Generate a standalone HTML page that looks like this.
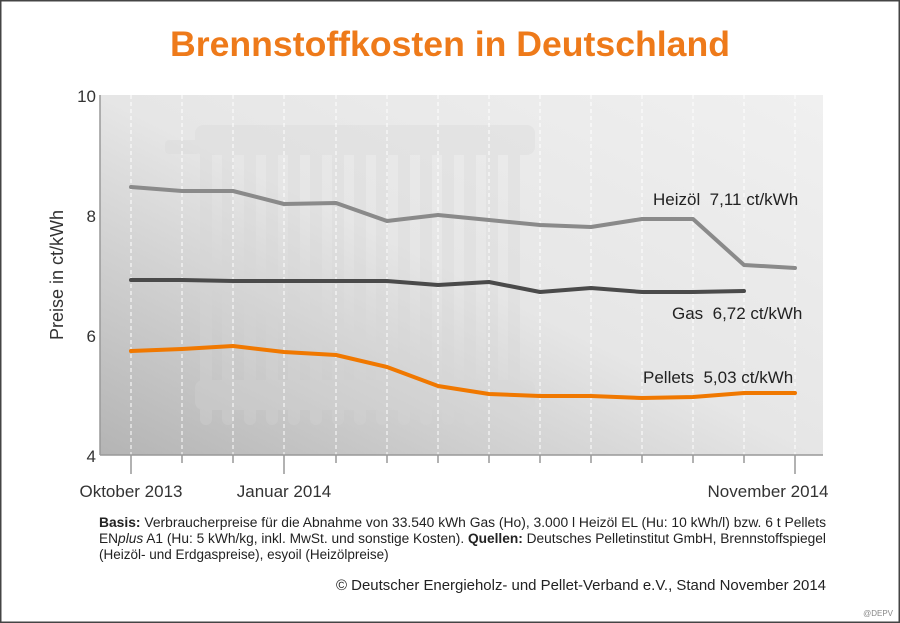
<!DOCTYPE html>
<html><head><meta charset="utf-8"><style>
html,body{margin:0;padding:0;background:#fff}
svg{display:block}
text{font-family:"Liberation Sans",sans-serif}
</style></head><body>
<svg width="900" height="623" viewBox="0 0 900 623" xmlns="http://www.w3.org/2000/svg">
<defs>
<linearGradient id="bg" x1="1" y1="0" x2="0" y2="1">
<stop offset="0" stop-color="#f0f0f0"/><stop offset="0.5" stop-color="#e6e6e6"/><stop offset="1" stop-color="#b4b4b4"/>
</linearGradient>
</defs>
<rect x="0.5" y="0.5" width="899" height="622" fill="#fff" stroke="#444" stroke-width="2"/>
<text x="450" y="56" text-anchor="middle" font-size="35" font-weight="bold" fill="#ee7a1a" textLength="560" lengthAdjust="spacingAndGlyphs">Brennstoffkosten in Deutschland</text>
<rect x="100" y="95" width="723" height="360" fill="url(#bg)"/>
<g fill="#d6d6d6" opacity="0.3">
<rect x="165" y="140" width="35" height="14" rx="4"/>
<rect x="195" y="125" width="340" height="30" rx="8"/>
<rect x="195" y="380" width="340" height="30" rx="8"/>
<g>
<rect x="200" y="125" width="12" height="300" rx="6"/><rect x="222" y="125" width="12" height="300" rx="6"/><rect x="244" y="125" width="12" height="300" rx="6"/><rect x="266" y="125" width="12" height="300" rx="6"/><rect x="288" y="125" width="12" height="300" rx="6"/><rect x="310" y="125" width="12" height="300" rx="6"/><rect x="332" y="125" width="12" height="300" rx="6"/><rect x="354" y="125" width="12" height="300" rx="6"/><rect x="376" y="125" width="12" height="300" rx="6"/><rect x="398" y="125" width="12" height="300" rx="6"/><rect x="420" y="125" width="12" height="300" rx="6"/><rect x="442" y="125" width="12" height="300" rx="6"/><rect x="464" y="125" width="12" height="300" rx="6"/><rect x="486" y="125" width="12" height="300" rx="6"/><rect x="508" y="125" width="12" height="300" rx="6"/>
</g></g>
<g stroke="#fff" stroke-width="1" stroke-dasharray="4,3">
<line x1="131" y1="95" x2="131" y2="455"/><line x1="182" y1="95" x2="182" y2="455"/><line x1="233" y1="95" x2="233" y2="455"/><line x1="284" y1="95" x2="284" y2="455"/><line x1="336" y1="95" x2="336" y2="455"/><line x1="387" y1="95" x2="387" y2="455"/><line x1="438" y1="95" x2="438" y2="455"/><line x1="489" y1="95" x2="489" y2="455"/><line x1="540" y1="95" x2="540" y2="455"/><line x1="591" y1="95" x2="591" y2="455"/><line x1="642" y1="95" x2="642" y2="455"/><line x1="693" y1="95" x2="693" y2="455"/><line x1="744" y1="95" x2="744" y2="455"/><line x1="795" y1="95" x2="795" y2="455"/>
</g>
<g stroke="#999" stroke-width="1.5" fill="none">
<line x1="100" y1="95" x2="100" y2="455"/><line x1="100" y1="455" x2="823" y2="455"/>
<line x1="131" y1="455" x2="131" y2="474"/><line x1="182" y1="455" x2="182" y2="463"/><line x1="233" y1="455" x2="233" y2="463"/><line x1="284" y1="455" x2="284" y2="474"/><line x1="336" y1="455" x2="336" y2="463"/><line x1="387" y1="455" x2="387" y2="463"/><line x1="438" y1="455" x2="438" y2="463"/><line x1="489" y1="455" x2="489" y2="463"/><line x1="540" y1="455" x2="540" y2="463"/><line x1="591" y1="455" x2="591" y2="463"/><line x1="642" y1="455" x2="642" y2="463"/><line x1="693" y1="455" x2="693" y2="463"/><line x1="744" y1="455" x2="744" y2="463"/><line x1="795" y1="455" x2="795" y2="474"/>
</g>
<g font-size="17" fill="#333" text-anchor="end">
<text x="96" y="102">10</text><text x="96" y="222">8</text><text x="96" y="342">6</text><text x="96" y="462">4</text>
</g>
<text transform="translate(63,275) rotate(-90)" text-anchor="middle" font-size="18" fill="#333">Preise in ct/kWh</text>
<g font-size="17" fill="#333" text-anchor="middle">
<text x="131" y="497">Oktober 2013</text><text x="284" y="497">Januar 2014</text><text x="768" y="497">November 2014</text>
</g>
<g fill="none" stroke-width="4" stroke-linejoin="round" stroke-linecap="round">
<polyline stroke="#8a8a8a" points="131,187 182,191 233,191 284,204 336,203 387,221 438,215 489,220 540,225 591,227 642,219 693,219 744,265 795,268"/>
<polyline stroke="#4a4a4a" points="131,280 182,280 233,281 284,281 336,281 387,281 438,285 489,282 540,292 591,288 642,292 693,292 744,291"/>
<polyline stroke="#f07800" points="131,351 182,349 233,346 284,352 336,355 387,367 438,386 489,394 540,396 591,396 642,398 693,397 744,393 795,393"/>
</g>
<g font-size="17" fill="#222">
<text x="653" y="205">Heizöl&#160;&#160;7,11 ct/kWh</text>
<text x="672" y="319">Gas&#160;&#160;6,72 ct/kWh</text>
<text x="643" y="383">Pellets&#160;&#160;5,03 ct/kWh</text>
</g>
<g font-size="13.5" fill="#222">
<text x="99" y="527" textLength="727" lengthAdjust="spacingAndGlyphs"><tspan font-weight="bold">Basis:</tspan> Verbraucherpreise für die Abnahme von 33.540 kWh Gas (Ho), 3.000 l Heizöl EL (Hu: 10 kWh/l) bzw. 6 t Pellets</text>
<text x="99" y="543" textLength="727" lengthAdjust="spacingAndGlyphs">EN<tspan font-style="italic">plus</tspan> A1 (Hu: 5 kWh/kg, inkl. MwSt. und sonstige Kosten). <tspan font-weight="bold">Quellen:</tspan> Deutsches Pelletinstitut GmbH, Brennstoffspiegel</text>
<text x="99" y="559">(Heizöl- und Erdgaspreise), esyoil (Heizölpreise)</text>
</g>
<text x="826" y="590" text-anchor="end" font-size="14.5" fill="#222" textLength="490" lengthAdjust="spacingAndGlyphs">© Deutscher Energieholz- und Pellet-Verband e.V., Stand November 2014</text>
<text x="893" y="616" text-anchor="end" font-size="8" fill="#888">@DEPV</text>
</svg>
</body></html>
